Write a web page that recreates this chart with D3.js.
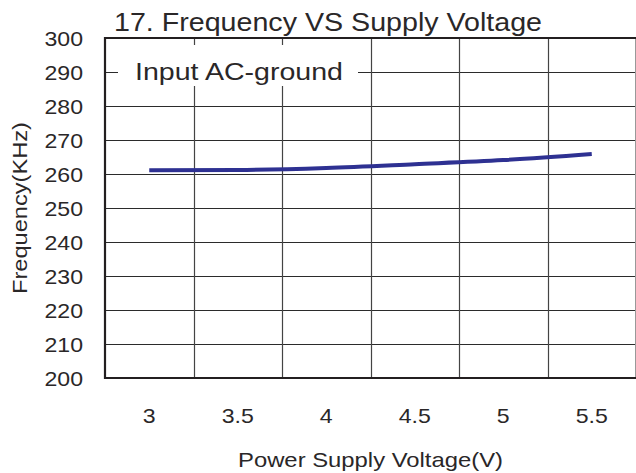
<!DOCTYPE html>
<html>
<head>
<meta charset="utf-8">
<script src="https://cdn.jsdelivr.net/npm/d3@7"></script>
<style>
  body { margin: 0; background: #fff; }
  text { font-family: "Liberation Sans", Arial, Helvetica, sans-serif; fill: #2a2728; }
</style>
</head>
<body>
<div id="chart"></div>
<script>
// supply voltage (V) and measured frequency (KHz)
var voltage = [3, 3.5, 4, 4.5, 5, 5.5];
var frequency = [261.1, 261.2, 261.8, 262.9, 264.1, 265.9];

var xTicks = [3, 3.5, 4, 4.5, 5, 5.5];
var xGrid = [3.25, 3.75, 4.25, 4.75, 5.25];
var yTicks = [200, 210, 220, 230, 240, 250, 260, 270, 280, 290, 300];

var title = "17. Frequency VS Supply Voltage";
var note = "Input AC-ground";
var xTitle = "Power Supply Voltage(V)";
var yTitle = "Frequency(KHz)";

var W = 636, H = 473;
var margin = {top: 38, right: 0, bottom: 95, left: 105};
var width = W - margin.left - margin.right,
    height = H - margin.top - margin.bottom;

var x = d3.scaleLinear().domain([2.75, 5.75]).range([0, width]);
var y = d3.scaleLinear().domain([200, 300]).range([height, 0]);

var svg = d3.select("#chart").append("svg")
    .attr("width", W)
    .attr("height", H);

// widen text a little, the source font is drawn horizontally stretched
function stretch(sel, k) {
    sel.each(function() {
        var len = this.getComputedTextLength();
        d3.select(this).attr("textLength", len * k).attr("lengthAdjust", "spacingAndGlyphs");
    });
}

var g = svg.append("g")
    .attr("transform", "translate(" + margin.left + "," + margin.top + ")");

// horizontal grid
g.selectAll(".hgrid")
    .data(yTicks.filter(d => d > 200 && d < 300))
    .enter().append("line")
    .attr("x1", 0).attr("x2", width)
    .attr("y1", d => Math.round(y(d)) + 0.5)
    .attr("y2", d => Math.round(y(d)) + 0.5)
    .attr("stroke", "#2b2b2b")
    .attr("stroke-width", 1);

// vertical grid
g.selectAll(".vgrid")
    .data(xGrid)
    .enter().append("line")
    .attr("x1", d => Math.round(x(d)) + 0.5)
    .attr("x2", d => Math.round(x(d)) + 0.5)
    .attr("y1", 0).attr("y2", height)
    .attr("stroke", "#444")
    .attr("stroke-width", 1.2);

// right edge
g.append("line")
    .attr("x1", width - 0.5).attr("x2", width - 0.5)
    .attr("y1", 0).attr("y2", height)
    .attr("stroke", "#999").attr("stroke-width", 1);

// frame: top, left, bottom
g.append("path")
    .attr("d", "M" + width + ",0H0V" + height + "H" + width)
    .attr("fill", "none")
    .attr("stroke", "#231f20")
    .attr("stroke-width", 2.2);

// label box
g.append("rect")
    .attr("x", 13).attr("y", 7)
    .attr("width", 240).attr("height", 41)
    .attr("fill", "#fff");

g.append("text")
    .attr("x", 30)
    .attr("y", y(290) + 8)
    .attr("font-size", 23)
    .attr("textLength", 208)
    .attr("lengthAdjust", "spacingAndGlyphs")
    .text(note);

// data line
var line = d3.line()
    .x((d, i) => x(voltage[i]))
    .y(d => y(d))
    .curve(d3.curveMonotoneX);

g.append("path")
    .datum(frequency)
    .attr("d", line)
    .attr("fill", "none")
    .attr("stroke", "#2e3192")
    .attr("stroke-width", 4);

// y tick labels
g.selectAll(".ylab")
    .data(yTicks)
    .enter().append("text")
    .attr("x", -22)
    .attr("y", d => y(d))
    .attr("dy", "0.36em")
    .attr("text-anchor", "end")
    .attr("font-size", 21)
    .text(d => d)
    .call(stretch, 1.1);

// x tick labels
g.selectAll(".xlab")
    .data(xTicks)
    .enter().append("text")
    .attr("x", d => x(d))
    .attr("y", height + 45)
    .attr("text-anchor", "middle")
    .attr("font-size", 21)
    .text(d => d)
    .call(stretch, 1.1);

// axis titles
g.append("text")
    .attr("x", width / 2)
    .attr("y", height + 89)
    .attr("text-anchor", "middle")
    .attr("font-size", 21)
    .attr("textLength", 265)
    .attr("lengthAdjust", "spacingAndGlyphs")
    .text(xTitle);

svg.append("text")
    .attr("transform", "translate(27," + (margin.top + height / 2) + ") rotate(-90)")
    .attr("text-anchor", "middle")
    .attr("font-size", 21)
    .attr("textLength", 172)
    .attr("lengthAdjust", "spacingAndGlyphs")
    .text(yTitle);

// title
svg.append("text")
    .attr("x", 114)
    .attr("y", 31)
    .attr("font-size", 25)
    .attr("textLength", 428)
    .attr("lengthAdjust", "spacingAndGlyphs")
    .text(title);
</script>
</body>
</html>
